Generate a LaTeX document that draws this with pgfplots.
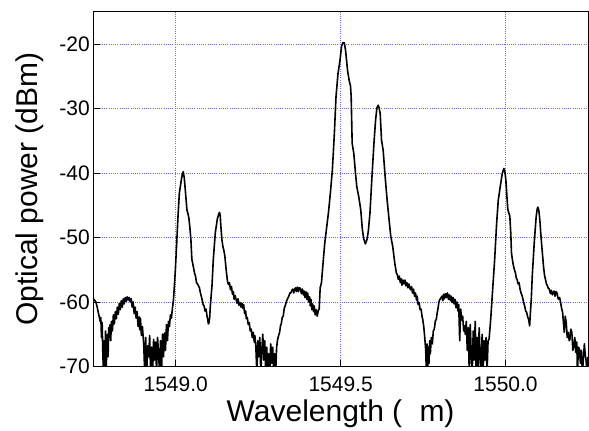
\documentclass[border=0pt]{standalone}
\usepackage{pgfplots}
\pgfplotsset{compat=1.18}
\usepackage{fontspec}
\setmainfont{Liberation Sans}
\definecolor{gridblue}{RGB}{105,105,255}
\begin{document}
\begin{tikzpicture}
\begin{axis}[
  scale only axis,
  width=495pt, height=355pt,
  xmin=1548.75, xmax=1550.25,
  ymin=-70, ymax=-15,
  xtick={1549.0,1549.5,1550.0},
  xticklabels={1549.0,1549.5,1550.0},
  ytick={-70,-60,-50,-40,-30,-20},
  yticklabels={-70,-60,-50,-40,-30,-20},
  tick align=inside,
  tick pos=left,
  major tick length=7pt,
  tick style={black, line width=0.8pt},
  axis line style={line width=0.9pt},
  grid=major,
  major grid style={gridblue, line width=0.6pt, dash pattern=on 1pt off 1.2pt},
  ticklabel style={font=\fontsize{21}{24}\selectfont},
  xticklabel style={yshift=-7pt},
  xlabel={Wavelength (\phantom{μ}m)},
  ylabel={Optical power (dBm)},
  label style={font=\fontsize{30}{34}\selectfont},
  xlabel style={at={([yshift=-54.8pt]axis description cs:0.5,0)}, anchor=base},
  ylabel style={at={([xshift=-56pt]axis description cs:0,0.5)}, anchor=base, rotate=0},
  clip=true,
]
\addplot[black, line width=1.6pt, line join=round] table {
x y
1548.746 -59.4
1548.752 -59.6
1548.758 -60.0
1548.762 -60.8
1548.766 -61.8
1548.769 -62.5
1548.771 -63.0
1548.773 -62.4
1548.775 -65.5
1548.777 -63.2
1548.779 -68.0
1548.781 -71
1548.783 -66.0
1548.785 -71
1548.787 -64.5
1548.789 -71
1548.791 -67.0
1548.793 -65.0
1548.795 -68.5
1548.797 -64.0
1548.799 -65.5
1548.801 -63.5
1548.803 -66.0
1548.805 -63.0
1548.808 -64.5
1548.811 -62.0
1548.814 -63.4
1548.817 -61.5
1548.820 -62.6
1548.823 -60.8
1548.826 -61.9
1548.829 -60.2
1548.832 -61.2
1548.835 -59.8
1548.838 -60.8
1548.841 -59.5
1548.844 -60.3
1548.847 -59.3
1548.850 -59.9
1548.853 -59.2
1548.856 -59.7
1548.859 -59.3
1548.862 -60.0
1548.865 -59.5
1548.868 -60.8
1548.871 -60.0
1548.874 -61.8
1548.877 -60.8
1548.880 -62.5
1548.883 -61.5
1548.886 -63.8
1548.889 -62.3
1548.891 -64.3
1548.893 -62.5
1548.896 -65.2
1548.899 -63.8
1548.903 -66.5
1548.906 -71
1548.909 -65.5
1548.912 -71
1548.915 -66.8
1548.918 -68.5
1548.921 -65.2
1548.924 -71
1548.927 -67.0
1548.930 -71
1548.933 -65.8
1548.936 -69.0
1548.939 -66.2
1548.942 -71
1548.945 -65.5
1548.948 -68.0
1548.951 -71
1548.954 -66.0
1548.957 -71
1548.960 -65.0
1548.963 -68.5
1548.966 -64.8
1548.969 -67.5
1548.972 -63.5
1548.975 -66.0
1548.978 -63.0
1548.981 -63.8
1548.984 -62.0
1548.987 -62.5
1548.990 -61.0
1548.993 -59.8
1548.996 -57.5
1548.999 -55.0
1549.002 -51.9
1549.007 -46.7
1549.011 -43.1
1549.017 -41.1
1549.020 -40.2
1549.023 -39.8
1549.026 -40.8
1549.029 -42.6
1549.034 -45.7
1549.037 -46.3
1549.040 -47.0
1549.043 -48.5
1549.046 -50.3
1549.049 -53.4
1549.053 -54.4
1549.057 -55.5
1549.060 -56.0
1549.063 -57.0
1549.066 -57.2
1549.069 -57.5
1549.072 -57.8
1549.074 -58.4
1549.077 -59.0
1549.080 -59.6
1549.083 -60.4
1549.086 -60.6
1549.089 -61.4
1549.092 -61.1
1549.095 -62.2
1549.097 -62.7
1549.099 -63.4
1549.101 -63.2
1549.103 -62.4
1549.105 -60.6
1549.110 -57.5
1549.114 -53.4
1549.120 -49.3
1549.126 -47.2
1549.130 -46.4
1549.133 -46.1
1549.135 -46.6
1549.137 -48.3
1549.140 -50.3
1549.143 -51.4
1549.146 -52.0
1549.149 -52.9
1549.152 -54.5
1549.154 -55.5
1549.157 -56.8
1549.160 -57.3
1549.163 -57.0
1549.166 -58.1
1549.169 -57.6
1549.172 -58.8
1549.175 -58.4
1549.177 -59.6
1549.180 -59.0
1549.183 -59.6
1549.186 -60.2
1549.189 -59.5
1549.192 -60.5
1549.195 -60.1
1549.198 -60.8
1549.201 -60.2
1549.204 -61.0
1549.206 -60.4
1549.209 -61.8
1549.212 -61.4
1549.214 -62.6
1549.217 -62.4
1549.220 -63.5
1549.223 -63.2
1549.226 -64.5
1549.229 -64.2
1549.232 -65.5
1549.235 -64.7
1549.238 -66.2
1549.240 -65.2
1549.243 -67.0
1549.246 -71
1549.249 -66.0
1549.252 -68.5
1549.255 -65.5
1549.258 -71
1549.261 -67.5
1549.264 -65.0
1549.267 -69.0
1549.270 -66.0
1549.273 -71
1549.276 -67.0
1549.279 -71
1549.282 -68.0
1549.285 -71
1549.288 -66.5
1549.291 -69.5
1549.294 -67.0
1549.297 -71
1549.300 -68.0
1549.303 -71
1549.306 -67.0
1549.309 -65.8
1549.312 -65.2
1549.315 -64.7
1549.318 -63.6
1549.320 -63.4
1549.323 -62.4
1549.326 -62.2
1549.329 -61.0
1549.332 -60.6
1549.335 -60.0
1549.338 -59.6
1549.341 -59.3
1549.343 -59.1
1549.346 -58.6
1549.349 -58.6
1549.352 -58.2
1549.355 -58.0
1549.358 -58.6
1549.361 -58.0
1549.364 -57.8
1549.366 -58.4
1549.369 -57.7
1549.372 -58.4
1549.375 -57.8
1549.378 -57.9
1549.381 -58.7
1549.384 -58.0
1549.387 -58.9
1549.389 -58.3
1549.392 -59.3
1549.395 -58.4
1549.398 -59.6
1549.400 -58.6
1549.403 -60.0
1549.406 -59.2
1549.408 -60.6
1549.410 -59.6
1549.413 -61.2
1549.415 -60.3
1549.418 -61.5
1549.420 -60.6
1549.423 -62.0
1549.426 -61.2
1549.429 -62.2
1549.432 -61.4
1549.435 -61.1
1549.438 -57.8
1549.442 -57.0
1549.446 -54.4
1549.452 -50.8
1549.458 -48.3
1549.463 -46.2
1549.469 -43.1
1549.475 -39.5
1549.481 -33.9
1549.486 -28.2
1549.492 -24.6
1549.498 -22.6
1549.503 -20.3
1549.507 -19.8
1549.511 -19.8
1549.515 -21.0
1549.521 -24.1
1549.526 -25.7
1549.530 -26.5
1549.532 -28.2
1549.535 -35.4
1549.540 -37.0
1549.545 -40.0
1549.549 -42.1
1549.555 -43.7
1549.561 -45.7
1549.566 -48.8
1549.570 -50.2
1549.575 -51.0
1549.580 -50.3
1549.584 -49.0
1549.589 -46.2
1549.595 -40.6
1549.601 -35.4
1549.606 -31.8
1549.610 -29.9
1549.614 -29.5
1549.617 -30.0
1549.620 -30.8
1549.624 -34.9
1549.629 -36.5
1549.635 -40.6
1549.641 -44.2
1549.647 -47.3
1549.652 -49.8
1549.658 -51.4
1549.664 -53.9
1549.669 -55.5
1549.672 -55.8
1549.675 -56.5
1549.678 -56.0
1549.681 -57.0
1549.684 -56.4
1549.686 -57.4
1549.689 -56.6
1549.692 -57.2
1549.695 -56.6
1549.698 -57.5
1549.701 -57.0
1549.704 -57.8
1549.707 -57.2
1549.709 -57.7
1549.712 -58.1
1549.715 -57.6
1549.718 -58.6
1549.721 -58.0
1549.724 -59.1
1549.727 -58.6
1549.730 -59.7
1549.732 -59.1
1549.735 -60.4
1549.738 -60.1
1549.741 -61.2
1549.744 -61.1
1549.747 -62.3
1549.749 -62.7
1549.752 -63.8
1549.755 -65.5
1549.758 -67.5
1549.760 -71
1549.762 -66.5
1549.764 -71
1549.766 -67.0
1549.768 -69.5
1549.770 -66.0
1549.772 -68.0
1549.775 -65.5
1549.778 -66.5
1549.781 -64.5
1549.784 -64.2
1549.787 -63.0
1549.790 -62.7
1549.793 -61.6
1549.795 -61.1
1549.798 -60.0
1549.801 -59.6
1549.804 -59.4
1549.807 -59.1
1549.810 -59.8
1549.812 -58.8
1549.815 -59.5
1549.818 -58.7
1549.821 -59.3
1549.824 -58.6
1549.827 -59.6
1549.830 -58.9
1549.833 -59.8
1549.835 -59.1
1549.838 -60.1
1549.841 -59.3
1549.844 -60.3
1549.847 -59.6
1549.850 -60.9
1549.853 -60.0
1549.856 -61.4
1549.858 -60.4
1549.861 -66.0
1549.864 -61.1
1549.867 -62.8
1549.870 -62.2
1549.873 -64.5
1549.875 -63.7
1549.878 -65.0
1549.881 -63.0
1549.884 -67.5
1549.887 -64.0
1549.890 -71
1549.893 -63.5
1549.896 -68.0
1549.899 -71
1549.902 -64.5
1549.905 -69.0
1549.908 -63.0
1549.911 -71
1549.914 -65.5
1549.917 -71
1549.920 -64.0
1549.923 -68.5
1549.926 -71
1549.929 -65.0
1549.932 -71
1549.935 -66.0
1549.938 -69.0
1549.941 -65.5
1549.944 -71
1549.947 -66.0
1549.950 -65.8
1549.955 -62.7
1549.961 -58.0
1549.967 -53.4
1549.973 -47.8
1549.978 -44.2
1549.984 -42.1
1549.990 -40.1
1549.995 -39.3
1549.998 -39.8
1550.001 -41.1
1550.004 -43.5
1550.007 -45.7
1550.010 -46.2
1550.013 -46.7
1550.016 -49.5
1550.018 -52.4
1550.021 -53.5
1550.024 -54.4
1550.027 -55.0
1550.030 -55.5
1550.033 -56.4
1550.035 -56.5
1550.038 -57.2
1550.041 -57.0
1550.044 -58.0
1550.047 -58.6
1550.050 -59.0
1550.053 -59.6
1550.056 -60.3
1550.058 -60.6
1550.061 -61.4
1550.064 -61.6
1550.067 -62.3
1550.070 -62.7
1550.073 -63.7
1550.075 -62.0
1550.078 -59.6
1550.081 -56.0
1550.087 -50.8
1550.093 -46.7
1550.096 -45.6
1550.098 -45.3
1550.101 -45.8
1550.104 -47.3
1550.107 -49.5
1550.110 -51.4
1550.115 -54.4
1550.118 -55.8
1550.121 -56.5
1550.124 -57.2
1550.127 -57.5
1550.130 -57.9
1550.133 -58.0
1550.136 -58.7
1550.139 -58.2
1550.142 -58.9
1550.144 -58.6
1550.147 -58.3
1550.150 -59.1
1550.153 -58.4
1550.156 -58.6
1550.159 -59.4
1550.161 -59.6
1550.164 -59.3
1550.167 -60.1
1550.170 -61.0
1550.173 -61.6
1550.176 -63.5
1550.178 -64.7
1550.181 -62.2
1550.184 -63.2
1550.187 -65.5
1550.190 -64.7
1550.193 -66.0
1550.195 -65.8
1550.198 -64.2
1550.201 -64.7
1550.204 -67.5
1550.207 -66.8
1550.210 -65.5
1550.213 -67.8
1550.216 -66.2
1550.218 -71
1550.221 -67.0
1550.224 -67.3
1550.227 -69.5
1550.230 -67.5
1550.233 -71
1550.236 -68.8
1550.239 -66.5
1550.241 -67.8
1550.244 -69.0
1550.247 -71
1550.250 -68.5
};
\end{axis}
\path ([shift={(-93.3pt,-64.3pt)}]current axis.south west) rectangle ([shift={(1pt,11.7pt)}]current axis.north east);
\end{tikzpicture}
\end{document}
